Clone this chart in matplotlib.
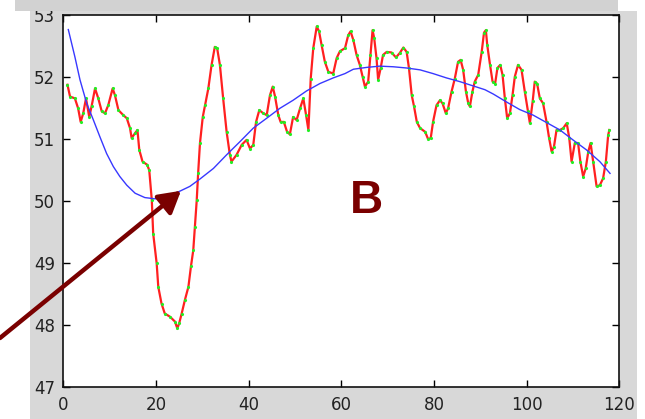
import numpy as np
import matplotlib
matplotlib.use("Agg")
import matplotlib.pyplot as plt
from matplotlib.patches import Rectangle

# ------------------------------------------------------------------
# Data
# ------------------------------------------------------------------

x_signal = [
    0.9, 1.45, 2.5, 3.2, 3.75, 4.3, 4.9, 5.6, 6.1, 6.85, 7.55, 8.3, 9.0, 9.7,
    10.65, 11.15, 11.9, 12.95, 13.7, 14.4, 14.75, 15.5, 16.0, 16.4, 17.1, 18.1,
    18.55, 19.1, 19.4, 20.15, 20.5, 21.2, 21.9, 23.0, 24.1, 24.6, 25.0, 25.55,
    26.25, 27.0, 27.55, 28.05, 28.4, 28.8, 29.1, 29.5, 30.1, 30.6, 31.3, 32.0,
    32.7, 33.2, 33.8, 34.5, 35.25, 35.95, 36.3, 37.4, 38.5, 39.55, 40.3, 41.0,
    41.6, 42.3, 43.15, 43.9, 44.6, 45.2, 45.7, 46.4, 46.9, 47.6, 48.3, 48.9,
    49.6, 50.35, 51.1, 51.8, 52.4, 52.9, 53.4, 53.95, 54.7, 55.2, 55.75, 56.45,
    57.2, 58.25, 59.0, 59.7, 60.8, 61.5, 62.0, 62.6, 63.3, 64.0, 64.6, 65.1,
    65.8, 66.3, 66.75, 67.1, 67.6, 67.95, 68.5, 69.0, 69.8, 70.85, 71.8, 72.6,
    73.4, 74.1, 74.6, 75.2, 75.7, 76.3, 77.0, 78.1, 78.75, 79.3, 79.8, 80.55,
    81.3, 81.85, 82.55, 83.05, 83.8, 84.5, 85.2, 85.75, 86.3, 86.9, 87.4, 87.75,
    88.3, 88.8, 89.55, 90.3, 90.8, 91.2, 91.5, 92.1, 92.65, 93.2, 93.7, 94.3,
    94.8, 95.3, 95.8, 96.4, 96.95, 97.45, 98.15, 98.9, 99.6, 100.3, 100.7,
    101.3, 101.75, 102.25, 102.85, 103.55, 104.3, 104.85, 105.4, 105.9, 106.45,
    107.2, 107.9, 108.65, 109.2, 109.7, 110.4, 111.1, 111.6, 112.2, 112.75,
    113.3, 113.8, 114.35, 115.1, 115.8, 116.5, 117.1, 117.6, 117.85,
]
y_signal = [
    51.88, 51.69, 51.66, 51.50, 51.28, 51.42, 51.66, 51.36, 51.53, 51.82, 51.66,
    51.45, 51.42, 51.55, 51.82, 51.71, 51.47, 51.39, 51.34, 51.18, 51.02, 51.10,
    51.15, 50.83, 50.64, 50.59, 50.50, 50.02, 49.48, 49.00, 48.62, 48.35, 48.19,
    48.14, 48.06, 47.95, 48.03, 48.19, 48.41, 48.62, 48.95, 49.21, 49.59, 50.02,
    50.45, 50.94, 51.36, 51.55, 51.82, 52.20, 52.49, 52.47, 52.20, 51.66, 51.12,
    50.75, 50.64, 50.75, 50.91, 50.99, 50.85, 50.91, 51.28, 51.47, 51.42, 51.39,
    51.71, 51.85, 51.69, 51.39, 51.28, 51.28, 51.12, 51.08, 51.36, 51.31, 51.50,
    51.66, 51.39, 51.15, 51.98, 52.47, 52.82, 52.74, 52.52, 52.25, 52.09, 52.06,
    52.31, 52.42, 52.47, 52.68, 52.74, 52.60, 52.36, 52.20, 52.01, 51.85, 51.93,
    52.36, 52.76, 52.63, 52.31, 51.96, 52.15, 52.36, 52.41, 52.40, 52.32, 52.39,
    52.48, 52.41, 52.15, 51.71, 51.53, 51.28, 51.18, 51.12, 51.00, 51.02, 51.28,
    51.55, 51.63, 51.58, 51.42, 51.50, 51.77, 51.98, 52.25, 52.28, 52.12, 51.77,
    51.58, 51.53, 51.77, 51.93, 52.04, 52.41, 52.72, 52.76, 52.52, 52.20, 51.93,
    51.90, 52.15, 52.20, 52.04, 51.66, 51.34, 51.42, 51.71, 52.01, 52.20, 52.12,
    51.77, 51.45, 51.26, 51.61, 51.93, 51.90, 51.66, 51.58, 51.28, 51.02, 50.80,
    50.88, 51.15, 51.15, 51.18, 51.26, 51.02, 50.64, 50.94, 50.94, 50.64, 50.40,
    50.53, 50.80, 50.94, 50.64, 50.24, 50.26, 50.37, 50.64, 51.07, 51.15,
]

x_trend = [
    1.08, 2.5, 3.6, 5.05, 6.5, 7.9, 9.35, 10.8, 12.2, 13.7, 15.5, 17.6, 19.8,
    21.9, 24.5, 27.3, 29.5, 32.4, 35.25, 38.1, 41.0, 43.9, 46.75, 49.6, 52.5,
    55.4, 58.25, 60.8, 62.6, 65.5, 68.3, 71.2, 74.1, 77.0, 79.8, 82.7, 85.6,
    88.5, 91.0, 92.8, 95.7, 98.5, 101.4, 104.3, 107.2, 110.0, 112.9, 115.8, 118.0,
]
y_trend = [
    52.77, 52.33, 51.96, 51.58, 51.31, 51.04, 50.77, 50.56, 50.40, 50.26, 50.13,
    50.06, 50.04, 50.07, 50.14, 50.24, 50.36, 50.53, 50.75, 50.96, 51.18, 51.34,
    51.50, 51.63, 51.78, 51.90, 51.99, 52.06, 52.13, 52.16, 52.18, 52.17, 52.15,
    52.12, 52.06, 51.99, 51.93, 51.86, 51.80, 51.73, 51.60, 51.48, 51.39, 51.27,
    51.15, 50.99, 50.83, 50.64, 50.45,
]

x_ticks = [0, 20, 40, 60, 80, 100, 120]
y_ticks = [47, 48, 49, 50, 51, 52, 53]
panel_label = "B"

# ------------------------------------------------------------------
# Figure
# ------------------------------------------------------------------

W, H = 645, 419
fig = plt.figure(figsize=(W / 100, H / 100), dpi=100, facecolor="white")

# grey window background behind the axes, and the strip on top
fig.patches.append(Rectangle((30 / W, 0), 607 / W, 1 - 11 / H,
                             transform=fig.transFigure, facecolor="#d8d8d8",
                             edgecolor="none", zorder=-1))
fig.patches.append(Rectangle((15 / W, 1 - 11 / H), 603 / W, 11 / H,
                             transform=fig.transFigure, facecolor="#d2d2d2",
                             edgecolor="none", zorder=5))

ax = fig.add_axes([63.3 / W, 1 - 387.3 / H, 556 / W, 372 / H])
ax.set_facecolor("white")

ax.plot(x_signal, y_signal, color="#ff2020", lw=1.6, marker=".", ms=2.5,
        mfc="#22ee22", mec="#22ee22", zorder=3)
ax.plot(x_trend, y_trend, color="#3838ff", lw=1.0, zorder=4)

ax.set_xlim(0, 120)
ax.set_ylim(47, 53)
ax.set_xticks(x_ticks)
ax.set_yticks(y_ticks)
ax.tick_params(direction="in", length=5, width=1, top=True, right=True,
               labelsize=12, labelcolor="#222222", pad=6)
for s in ax.spines.values():
    s.set_linewidth(1.2)
    s.set_color("#111111")

ax.text(65.5, 50.0, panel_label, ha="center", va="center", fontsize=33,
        fontweight="bold", color="#7a0000", family="Liberation Sans", zorder=6)

ax.annotate("", xy=(25.4, 50.17), xycoords="data",
            xytext=(0, 1 - 338 / H), textcoords="figure fraction",
            annotation_clip=False, zorder=7,
            arrowprops=dict(arrowstyle="-|>,head_length=1.3,head_width=0.75",
                            color="#7a0000", lw=3.2, shrinkA=0, shrinkB=0))

fig.savefig("out.png", dpi=100, facecolor=fig.get_facecolor())
